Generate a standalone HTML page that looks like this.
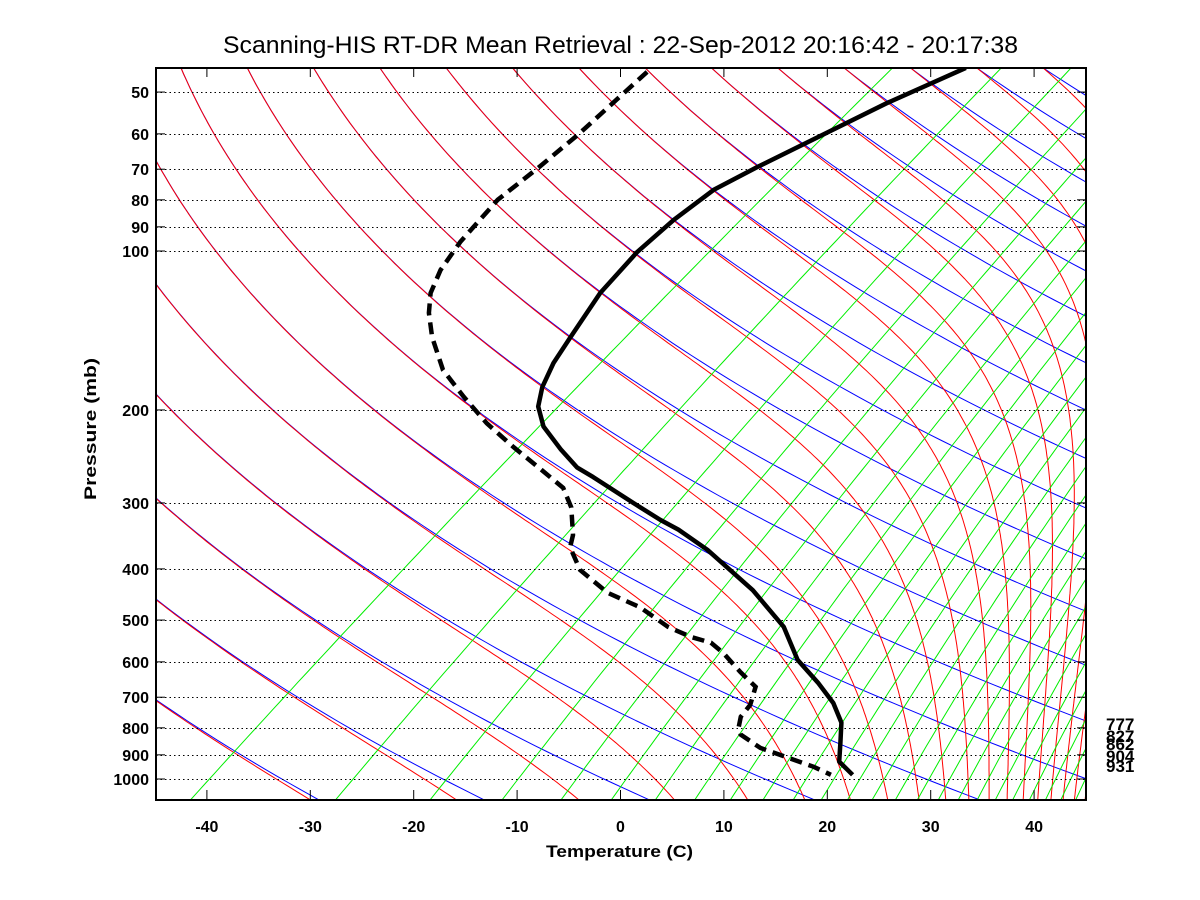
<!DOCTYPE html>
<html><head><meta charset="utf-8"><style>
html,body{margin:0;padding:0;background:#fff;}
svg{display:block;font-family:"Liberation Sans",sans-serif;}
</style></head><body>
<svg id="chart" width="1200" height="900" viewBox="0 0 1200 900" xmlns="http://www.w3.org/2000/svg">
<text x="223" y="53" font-size="24" textLength="795" lengthAdjust="spacingAndGlyphs">Scanning-HIS RT-DR Mean Retrieval : 22-Sep-2012 20:16:42 - 20:17:38</text>
<text x="546" y="857" font-size="17" font-weight="bold" textLength="147" lengthAdjust="spacingAndGlyphs">Temperature (C)</text>
<text x="0" y="0" transform="translate(96,500) rotate(-90)" font-size="17" font-weight="bold" textLength="142" lengthAdjust="spacingAndGlyphs">Pressure (mb)</text>
<g font-size="17" font-weight="bold">
<text x="1106" y="730">777</text>
<text x="1106" y="742">827</text>
<text x="1106" y="750">862</text>
<text x="1106" y="762">904</text>
<text x="1106" y="772">931</text>
</g>
<defs><clipPath id="plotclip"><rect x="156" y="68" width="930" height="732"/></clipPath></defs>
<g id="bg" clip-path="url(#plotclip)"></g>
<g id="obs" clip-path="url(#plotclip)"></g>
<g id="axes"></g>
</svg>
<script>
// ---- sounding data (pressure mb, temperature C) ----
const tempP = [45,52.5,69.3,76.6,87.3,100.4,120.1,145.5,163,181,197,215,238,257,268,300,323,337,368,439,515,595,657,718,782,854,927,982];
const tempT = [-60.9,-64.0,-68.3,-69.6,-69.6,-69.0,-67.3,-64.5,-62.8,-60.8,-58.7,-55.6,-50.9,-47.1,-44.3,-37.1,-32.3,-29.3,-23.9,-14.3,-6.6,-1.0,3.9,8.0,11.3,13.8,16.1,19.1];
const dewP = [45.8,52.5,60.3,69.6,80,96.1,108.6,120.1,131,145.5,168,189,212,235,258,281,306,345,364,402,444,473,515,538,552,577,627,669,724,762,796,824,873,911,948,982];
const dewT = [-91.2,-90.5,-89.8,-89.4,-89.2,-87.4,-85.7,-83.7,-81.3,-77.9,-72.6,-67.1,-61.5,-55.9,-50.6,-45.8,-42.5,-38.8,-37.5,-33.6,-28.0,-23.0,-17.8,-14.3,-11.6,-9.1,-5.0,-1.6,0.2,0.8,1.9,3.1,6.7,10.6,14.3,17.0];
// ---- axis ticks ----
const pressureTicks = [50,60,70,80,90,100,200,300,400,500,600,700,800,900,1000];
const tempTicks = [-40,-30,-20,-10,0,10,20,30,40];

const SKEW = 29.5, PBOT = 1100, PTOP = 45;
const X0 = 156, X1 = 1086, Y0 = 68, Y1 = 800;
function yP(p){ return 251 + 528*Math.log10(p/100); }
function xT(t,p){ const d = t + SKEW*Math.log(PBOT/p); return 620.5 + 10.34*d; }
function xD(d){ return 620.5 + 10.34*d; }
const NS = "http://www.w3.org/2000/svg";
function mk(tag, parent, attrs){ const e = document.createElementNS(NS, tag); for (const k in attrs) e.setAttribute(k, attrs[k]); parent.appendChild(e); return e; }
function pathFrom(pts){ return pts.map((q,i)=>(i?"L":"M")+q[0].toFixed(1)+","+q[1].toFixed(1)).join(""); }
const bg = document.getElementById('bg'), obs = document.getElementById('obs'), axes = document.getElementById('axes');

const Rd=287, cp=1004, Lv=2.5e6, eps=0.622;
function es(tc){ return 6.112*Math.exp(17.67*tc/(tc+243.5)); }
function rs(tK,p){ const e = es(tK-273.15); return eps*e/Math.max(p-e,1e-3); }

// dry adiabats (blue)
for (let t1100=-125; t1100<=420; t1100+=16){
  const th = (t1100+273.15)/Math.pow(1.1,0.286);
  const pts=[];
  for (let i=0;i<=120;i++){ const p = PTOP*Math.pow(PBOT/PTOP,i/120); const T = th*Math.pow(p/1000,0.286)-273.15; pts.push([xT(T,p),yP(p)]); }
  const el = mk('path', bg, {d:pathFrom(pts), fill:'none', stroke:'#0000ff', 'stroke-width':1});
  
  
}
// moist adiabats (red)
for (let t1100=-125; t1100<=420; t1100+=16){
  const th = (t1100+273.15)/Math.pow(1.1,0.286);
  let T = th*Math.pow(PTOP/1000,0.286);
  if (T > 300) continue;
  const N=240, pts=[];
  let lp = Math.log(PTOP); const dl = (Math.log(PBOT)-lp)/N;
  const f=(TK,p)=>{ const r=rs(TK,p); return (Rd*TK + Lv*r)/(cp + Lv*Lv*r*eps/(Rd*TK*TK)); };
  for (let i=0;i<=N;i++){
    const p = Math.exp(lp);
    pts.push([xT(T-273.15,p), yP(p)]);
    if (i===N) break;
    const k1 = f(T,p); const p2 = Math.exp(lp+dl); const k2 = f(T+k1*dl,p2);
    T += 0.5*(k1+k2)*dl; lp += dl;
  }
  const el = mk('path', bg, {d:pathFrom(pts), fill:'none', stroke:'#ff0000', 'stroke-width':1});
  
  
}
// mixing ratio lines (green)
for (let k=1;k<=30;k++){
  const w = 0.09*k*k/1000; const pts=[];
  for (let i=0;i<=80;i++){ const p = PTOP*Math.pow(PBOT/PTOP,i/80); const e = w*p/(eps+w); const L=Math.log(e/6.112); const td = 243.5*L/(17.67-L); pts.push([xT(td,p),yP(p)]); }
  const el = mk('path', bg, {d:pathFrom(pts), fill:'none', stroke:'#00ee00', 'stroke-width':1});
  
  
}
// isobars
for (const p of pressureTicks){
  const y = Math.round(yP(p))+0.5;
  const el = mk('line', bg, {x1:X0, x2:X1, y1:y, y2:y, stroke:'#000', 'stroke-width':1, 'stroke-dasharray':'1.5,3'});
  
  
}
// observations
const tPts = tempP.map((p,i)=>[xT(tempT[i],p), yP(p)]);
const tLine = mk('path', obs, {d:pathFrom(tPts), fill:'none', stroke:'#000', 'stroke-width':4.5, 'stroke-linejoin':'round'});


const dPts = dewP.map((p,i)=>[xT(dewT[i],p), yP(p)]);
const dLine = mk('path', obs, {d:pathFrom(dPts), fill:'none', stroke:'#000', 'stroke-width':4.5, 'stroke-dasharray':'12,7'});



// frame
const fr = mk('rect', axes, {x:X0, y:Y0, width:X1-X0, height:Y1-Y0, fill:'none', stroke:'#000', 'stroke-width':2});


for (const p of pressureTicks){
  const y = yP(p);
  const tl = mk('line', axes, {x1:X0, x2:X0+9, y1:y, y2:y, stroke:'#000', 'stroke-width':1});
  
  
  const tr = mk('line', axes, {x1:X1-9, x2:X1, y1:y, y2:y, stroke:'#000', 'stroke-width':1});
  
  
  const lb = mk('text', axes, {x:149, y:y+6, 'text-anchor':'end', 'font-size':16, 'font-weight':'bold'});
  lb.textContent = String(p);
  
  
}
for (const t of tempTicks){
  const x = xD(t);
  const tb = mk('line', axes, {x1:x, x2:x, y1:Y1-10, y2:Y1, stroke:'#000', 'stroke-width':1});
  
  
  const tt = mk('line', axes, {x1:x, x2:x, y1:Y0, y2:Y0+9, stroke:'#000', 'stroke-width':1});
  
  
  const lb = mk('text', axes, {x:x, y:832, 'text-anchor':'middle', 'font-size':16, 'font-weight':'bold'});
  lb.textContent = String(t);
  
  
}
</script>
</body></html>
